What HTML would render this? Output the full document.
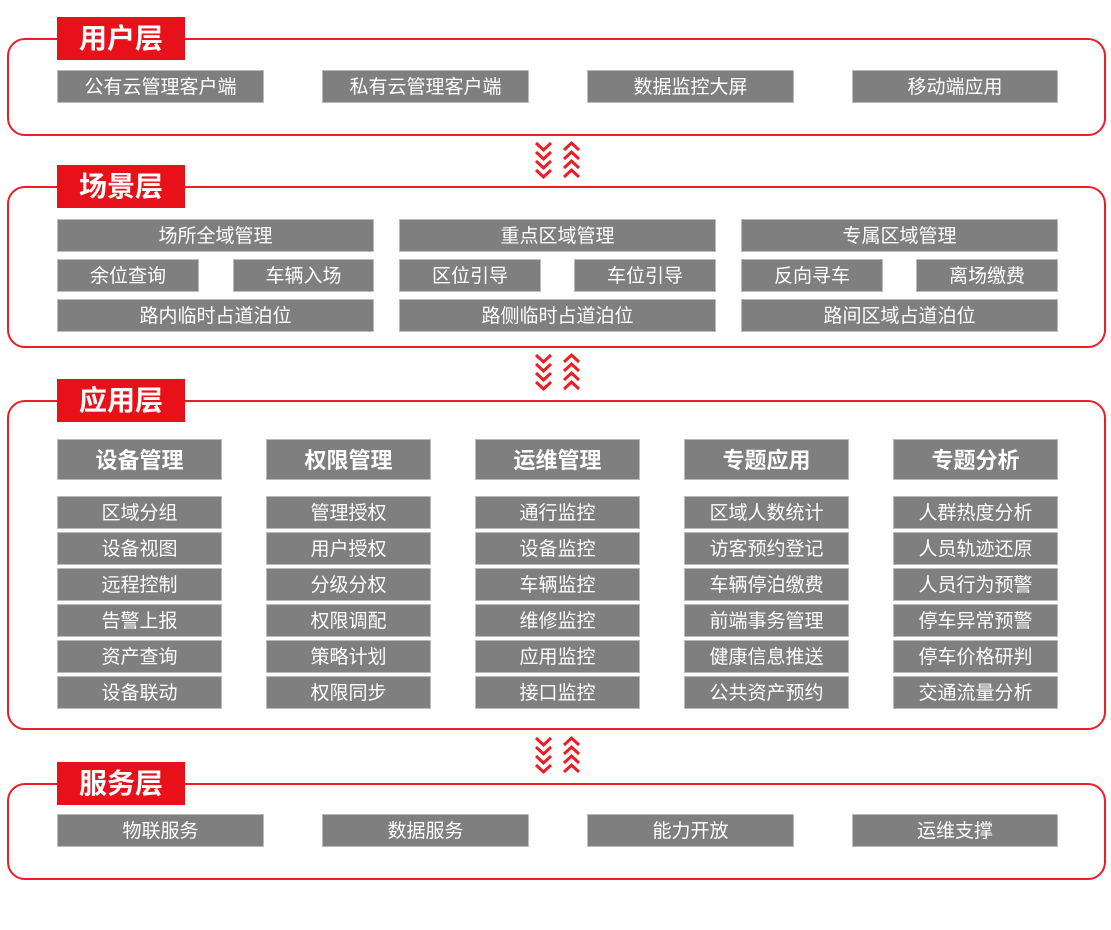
<!DOCTYPE html>
<html><head><meta charset="utf-8"><style>
body{margin:0;width:1111px;height:930px;background:#fff;position:relative;overflow:hidden;font-family:"Liberation Sans","Noto Sans CJK SC",sans-serif}
.p{position:absolute;left:7px;width:1099px;border:2px solid #ee1c25;border-radius:18px;box-sizing:border-box}
.l{position:absolute;left:57px;width:128px;height:43px;background:#e8111a;color:#fff;font-weight:bold;font-size:28px;line-height:43px;text-align:center}
.b{position:absolute;background:#7f7f7f;color:#fff;font-size:19px;text-align:center;height:33px;line-height:33px;border:1px solid #bbb;box-sizing:border-box}
.h{height:41px;line-height:41px;font-size:22px;font-weight:bold}
svg{position:absolute}
</style></head><body>
<div class="p" style="top:38px;height:98px"></div>
<div class="l" style="top:17px">用户层</div>
<div class="b" style="left:57px;top:70px;width:207px">公有云管理客户端</div>
<div class="b" style="left:322px;top:70px;width:207px">私有云管理客户端</div>
<div class="b" style="left:587px;top:70px;width:207px">数据监控大屏</div>
<div class="b" style="left:852px;top:70px;width:206px">移动端应用</div>

<div class="p" style="top:186px;height:162px"></div>
<div class="l" style="top:165px">场景层</div>
<div class="b" style="left:57px;top:219px;width:317px">场所全域管理</div>
<div class="b" style="left:57px;top:259px;width:142px">余位查询</div>
<div class="b" style="left:233px;top:259px;width:141px">车辆入场</div>
<div class="b" style="left:57px;top:299px;width:317px">路内临时占道泊位</div>
<div class="b" style="left:399px;top:219px;width:317px">重点区域管理</div>
<div class="b" style="left:399px;top:259px;width:142px">区位引导</div>
<div class="b" style="left:574px;top:259px;width:142px">车位引导</div>
<div class="b" style="left:399px;top:299px;width:317px">路侧临时占道泊位</div>
<div class="b" style="left:741px;top:219px;width:317px">专属区域管理</div>
<div class="b" style="left:741px;top:259px;width:142px">反向寻车</div>
<div class="b" style="left:916px;top:259px;width:142px">离场缴费</div>
<div class="b" style="left:741px;top:299px;width:317px">路间区域占道泊位</div>

<div class="p" style="top:400px;height:330px"></div>
<div class="l" style="top:379px">应用层</div>
<div class="b h" style="left:57px;top:439px;width:165px">设备管理</div>
<div class="b h" style="left:266px;top:439px;width:165px">权限管理</div>
<div class="b h" style="left:475px;top:439px;width:165px">运维管理</div>
<div class="b h" style="left:684px;top:439px;width:165px">专题应用</div>
<div class="b h" style="left:893px;top:439px;width:165px">专题分析</div>

<div class="b" style="left:57px;top:496px;width:165px">区域分组</div>
<div class="b" style="left:57px;top:532px;width:165px">设备视图</div>
<div class="b" style="left:57px;top:568px;width:165px">远程控制</div>
<div class="b" style="left:57px;top:604px;width:165px">告警上报</div>
<div class="b" style="left:57px;top:640px;width:165px">资产查询</div>
<div class="b" style="left:57px;top:676px;width:165px">设备联动</div>

<div class="b" style="left:266px;top:496px;width:165px">管理授权</div>
<div class="b" style="left:266px;top:532px;width:165px">用户授权</div>
<div class="b" style="left:266px;top:568px;width:165px">分级分权</div>
<div class="b" style="left:266px;top:604px;width:165px">权限调配</div>
<div class="b" style="left:266px;top:640px;width:165px">策略计划</div>
<div class="b" style="left:266px;top:676px;width:165px">权限同步</div>

<div class="b" style="left:475px;top:496px;width:165px">通行监控</div>
<div class="b" style="left:475px;top:532px;width:165px">设备监控</div>
<div class="b" style="left:475px;top:568px;width:165px">车辆监控</div>
<div class="b" style="left:475px;top:604px;width:165px">维修监控</div>
<div class="b" style="left:475px;top:640px;width:165px">应用监控</div>
<div class="b" style="left:475px;top:676px;width:165px">接口监控</div>

<div class="b" style="left:684px;top:496px;width:165px">区域人数统计</div>
<div class="b" style="left:684px;top:532px;width:165px">访客预约登记</div>
<div class="b" style="left:684px;top:568px;width:165px">车辆停泊缴费</div>
<div class="b" style="left:684px;top:604px;width:165px">前端事务管理</div>
<div class="b" style="left:684px;top:640px;width:165px">健康信息推送</div>
<div class="b" style="left:684px;top:676px;width:165px">公共资产预约</div>

<div class="b" style="left:893px;top:496px;width:165px">人群热度分析</div>
<div class="b" style="left:893px;top:532px;width:165px">人员轨迹还原</div>
<div class="b" style="left:893px;top:568px;width:165px">人员行为预警</div>
<div class="b" style="left:893px;top:604px;width:165px">停车异常预警</div>
<div class="b" style="left:893px;top:640px;width:165px">停车价格研判</div>
<div class="b" style="left:893px;top:676px;width:165px">交通流量分析</div>

<div class="p" style="top:783px;height:97px"></div>
<div class="l" style="top:762px">服务层</div>
<div class="b" style="left:57px;top:814px;width:207px">物联服务</div>
<div class="b" style="left:322px;top:814px;width:207px">数据服务</div>
<div class="b" style="left:587px;top:814px;width:207px">能力开放</div>
<div class="b" style="left:852px;top:814px;width:206px">运维支撑</div>

<svg width="0" height="0"><defs>
<g id="ch" fill="none" stroke="#ee1c25" stroke-width="3">
<polyline points="536,0 543.5,7 551,0"/><polyline points="536,9 543.5,16 551,9"/><polyline points="536,18 543.5,25 551,18"/><polyline points="536,27 543.5,34 551,27"/>
<polyline points="564,7 571.5,0 579,7"/><polyline points="564,16 571.5,9 579,16"/><polyline points="564,25 571.5,18 579,25"/><polyline points="564,34 571.5,27 579,34"/>
</g></defs></svg>
<svg width="1111" height="930" style="left:0;top:0">
<use href="#ch" transform="translate(0,143)"/>
<use href="#ch" transform="translate(0,355)"/>
<use href="#ch" transform="translate(0,738)"/>
</svg>
</body></html>
